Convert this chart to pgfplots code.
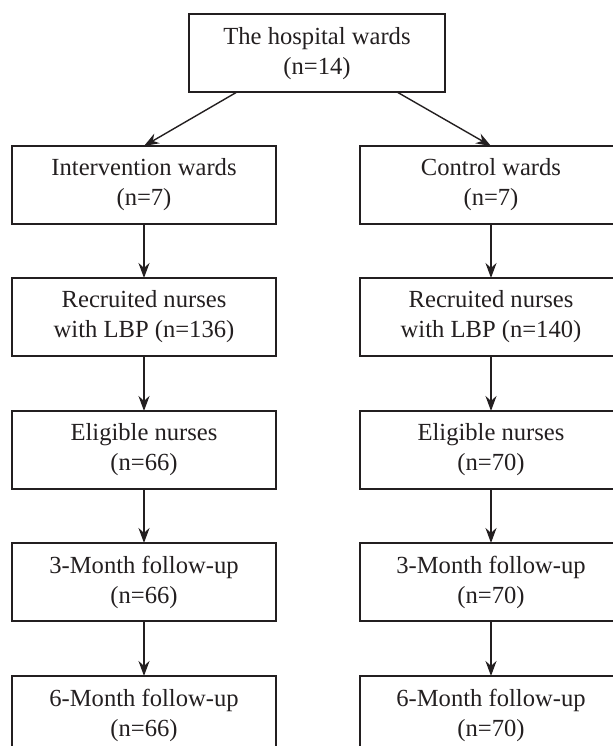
\documentclass[border=0pt]{standalone}
\usepackage{pgfplots}
\pgfplotsset{compat=1.18}
\usepackage{fontspec}
\setmainfont{Liberation Serif}
\usetikzlibrary{arrows.meta}
\definecolor{ink}{HTML}{231F20}
\begin{document}
\begin{tikzpicture}
\begin{axis}[
  width=306.5pt, height=373pt, scale only axis,
  xmin=0, xmax=613, ymin=0, ymax=746,
  hide axis, clip=false,
]
% picture corners
\coordinate (SW) at (axis cs:0,0);
\coordinate (NE) at (axis cs:613,746);
\tikzset{box/.style={draw=ink, line width=0.7pt},
         arr/.style={draw=ink, line width=0.7pt, -{Stealth[length=7.5pt,width=5.5pt]}},
         lab/.style={text=ink, align=center, font=\fontsize{12.3pt}{15pt}\selectfont}}
% top box (y = 746 - pixel row)
\draw[box] (axis cs:189,732) rectangle (axis cs:445,654);
\node[lab] at (axis cs:317,692) {The hospital wards\\(n=14)};
% left column boxes
\draw[box] (axis cs:12,600) rectangle (axis cs:276,522);
\draw[box] (axis cs:12,468) rectangle (axis cs:276,390);
\draw[box] (axis cs:12,335) rectangle (axis cs:276,257);
\draw[box] (axis cs:12,203) rectangle (axis cs:276,125);
\draw[box] (axis cs:12,0) -- (axis cs:12,70) -- (axis cs:276,70) -- (axis cs:276,0);
% right column boxes (cut by the right edge)
\draw[box] (axis cs:613,600) -- (axis cs:360,600) -- (axis cs:360,522) -- (axis cs:613,522);
\draw[box] (axis cs:613,468) -- (axis cs:360,468) -- (axis cs:360,390) -- (axis cs:613,390);
\draw[box] (axis cs:613,335) -- (axis cs:360,335) -- (axis cs:360,257) -- (axis cs:613,257);
\draw[box] (axis cs:613,203) -- (axis cs:360,203) -- (axis cs:360,125) -- (axis cs:613,125);
\draw[box] (axis cs:360,0) -- (axis cs:360,70) -- (axis cs:613,70);
% texts
\node[lab] at (axis cs:144,561) {Intervention wards\\(n=7)};
\node[lab] at (axis cs:144,429) {Recruited nurses\\with LBP (n=136)};
\node[lab] at (axis cs:144,296) {Eligible nurses\\(n=66)};
\node[lab] at (axis cs:144,164) {3-Month follow-up\\(n=66)};
\node[lab] at (axis cs:144,31) {6-Month follow-up\\(n=66)};
\node[lab] at (axis cs:491,561) {Control wards\\(n=7)};
\node[lab] at (axis cs:491,429) {Recruited nurses\\with LBP (n=140)};
\node[lab] at (axis cs:491,296) {Eligible nurses\\(n=70)};
\node[lab] at (axis cs:491,164) {3-Month follow-up\\(n=70)};
\node[lab] at (axis cs:491,31) {6-Month follow-up\\(n=70)};
% arrows
\draw[arr] (axis cs:237,654) -- (axis cs:144,600);
\draw[arr] (axis cs:397,654) -- (axis cs:491,600);
\draw[arr] (axis cs:144,522) -- (axis cs:144,468);
\draw[arr] (axis cs:144,390) -- (axis cs:144,335);
\draw[arr] (axis cs:144,257) -- (axis cs:144,203);
\draw[arr] (axis cs:144,125) -- (axis cs:144,70);
\draw[arr] (axis cs:491,522) -- (axis cs:491,468);
\draw[arr] (axis cs:491,390) -- (axis cs:491,335);
\draw[arr] (axis cs:491,257) -- (axis cs:491,203);
\draw[arr] (axis cs:491,125) -- (axis cs:491,70);
\end{axis}
\pgfresetboundingbox
\path[use as bounding box] (SW) rectangle (NE);
\end{tikzpicture}
\end{document}
